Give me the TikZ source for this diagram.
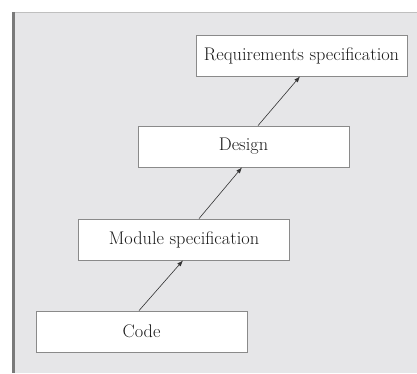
\documentclass[tikz,border=0pt]{standalone}
\usetikzlibrary{arrows.meta}
\definecolor{panel}{HTML}{E6E6E8}
\definecolor{boxline}{HTML}{8A8A8A}
\definecolor{leftbar}{HTML}{7A7A7A}
\definecolor{txt}{HTML}{1A1A1A}
\begin{document}
\begin{tikzpicture}[x=1pt,y=-1pt,
  stagebox/.style={draw=boxline,line width=0.8pt,fill=white,minimum width=211pt,minimum height=41pt,inner sep=0pt,text=txt,font=\fontsize{18.3}{22}\selectfont},
  flow/.style={draw=black!80,line width=0.6pt,-{Latex[length=6pt,width=4.5pt]}}]
\useasboundingbox (0,0) rectangle (417,373);
\fill[panel] (12,12) rectangle (417,373);
\draw[black!25,line width=0.6pt] (12,12.3) -- (417,12.3);
\draw[leftbar,line width=3pt] (13.5,12) -- (13.5,373);
\node[stagebox] (req) at (301.5,55.5) {Requirements specification};
\node[stagebox] (design) at (243.5,146.5) {Design};
\node[stagebox] (module) at (184,239.5) {Module specification};
\node[stagebox] (code) at (141.5,331.5) {Code};
\draw[flow] ([xshift=-2.5pt]code.north) -- ([xshift=-1pt]module.south);
\draw[flow] ([xshift=15pt]module.north) -- ([xshift=-1.5pt]design.south);
\draw[flow] ([xshift=14.5pt]design.north) -- ([xshift=-1.5pt]req.south);
\end{tikzpicture}
\end{document}
